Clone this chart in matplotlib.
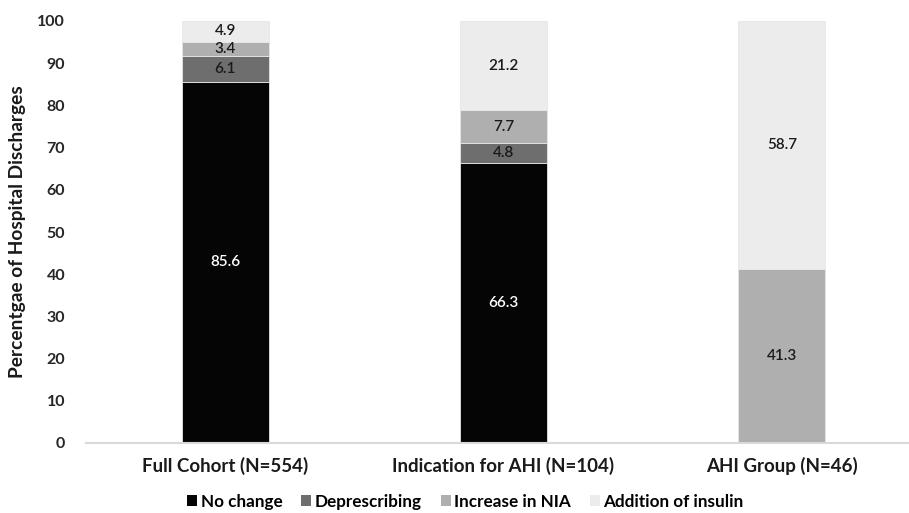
import numpy as np
import matplotlib
matplotlib.use("Agg")
import matplotlib.pyplot as plt

plt.rcParams['font.family'] = ['Lato', 'DejaVu Sans']

# données
groupes = ['Full Cohort (N=554)', 'Indication for AHI (N=104)', 'AHI Group (N=46)']
series = ['No change', 'Deprescribing', 'Increase in NIA', 'Addition of insulin']
no_change = [85.6, 66.3, 0]
deprescribing = [6.1, 4.8, 0]
increase_nia = [3.4, 7.7, 41.3]
addition_insulin = [4.9, 21.2, 58.7]
couleurs = ['#050505', '#6e6e6e', '#afafaf', '#ececec']
couleurs_texte = ['white', '#1a1a1a', '#1a1a1a', '#1a1a1a']

valeurs = [no_change, deprescribing, increase_nia, addition_insulin]

fig = plt.figure(figsize=(9.09, 5.13), dpi=100)
ax = fig.add_axes([86 / 909, 70 / 513, 835 / 909, 422 / 513])

x = np.arange(len(groupes))
bas = np.zeros(len(groupes))
for nom, vals, c, tc in zip(series, valeurs, couleurs, couleurs_texte):
    vals = np.array(vals)
    barres = ax.bar(x, vals, 0.313, bottom=bas, color=c, edgecolor='#e6e6e6',
                    linewidth=0.6, label=nom)
    for b, v, y0 in zip(barres, vals, bas):
        if v > 0:
            ax.text(b.get_x() + b.get_width() / 2, y0 + v / 2, f'{v:.1f}',
                    ha='center', va='center', color=tc, fontsize=11,
                    fontweight='semibold')
    bas += vals

ax.set_xlim(-0.5, 2.5)
ax.set_ylim(0, 100)
ax.set_yticks(np.arange(0, 101, 10))
ax.set_xticks(x)
ax.set_xticklabels(groupes, fontsize=13.5, fontweight='bold', color='#1a1a1a')
for lab in ax.get_yticklabels():
    lab.set_fontweight('bold')
    lab.set_fontsize(11.5)
    lab.set_color('#262626')
ax.tick_params(axis='y', length=0, pad=15)
ax.tick_params(axis='x', length=0, pad=10)
for s in ['top', 'right', 'left']:
    ax.spines[s].set_visible(False)
ax.spines['bottom'].set_color('#d9d9d9')
ax.spines['bottom'].set_linewidth(1.5)
ax.set_ylabel('Percentgae of Hospital Discharges', fontsize=13.8, fontweight='bold',
              color='#1a1a1a', labelpad=8)

leg = fig.legend(loc='center', bbox_to_anchor=(0.512, 0.022), ncol=4, frameon=False,
                 handlelength=0.6, handleheight=0.6, handletextpad=0.2,
                 columnspacing=1.1, prop={'weight': 'bold', 'size': 12.3})
for p in leg.get_patches():
    p.set_edgecolor('none')

fig.savefig('out.png', dpi=100)
